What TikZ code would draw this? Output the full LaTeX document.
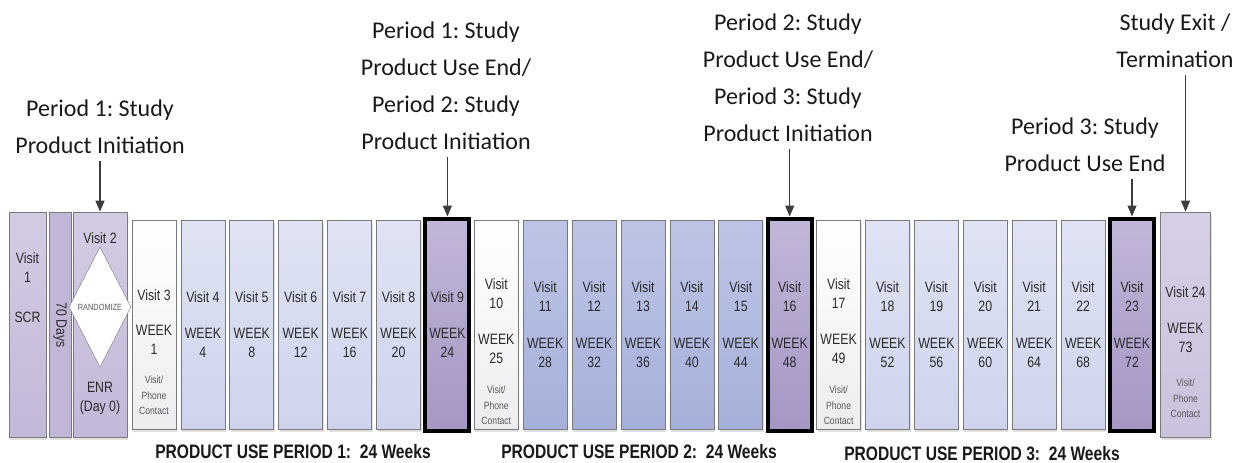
\documentclass[tikz,border=0pt]{standalone}
\usepackage{fontspec}
\setmainfont{Liberation Sans}
\newfontfamily\boxfont[FakeStretch=0.82]{Liberation Sans}
\newfontfamily\barfont[FakeStretch=0.8]{Liberation Sans}
\newfontfamily\tagfont{Carlito}
\usetikzlibrary{arrows.meta,shapes.geometric,shadows}
\frenchspacing

\definecolor{boxline}{HTML}{7A7A7A}
\definecolor{lavtop}{HTML}{D4CBE3}
\definecolor{lavbot}{HTML}{C3B8D8}
\definecolor{exittop}{HTML}{D7CFE6}
\definecolor{exitbot}{HTML}{CBC2DD}
\definecolor{daysside}{HTML}{C2B6D7}
\definecolor{daysmid}{HTML}{DED7EB}
\definecolor{whitebot}{HTML}{EDEDEF}
\definecolor{paletop}{HTML}{DFE3F3}
\definecolor{palebot}{HTML}{CDD4EC}
\definecolor{bluetop}{HTML}{BDC5E6}
\definecolor{bluebot}{HTML}{A5B0DA}
\definecolor{purptop}{HTML}{C2B6D8}
\definecolor{purpbot}{HTML}{A596C4}
\definecolor{inktext}{HTML}{2B2B2B}
\definecolor{smalltext}{HTML}{5A5A5A}
\definecolor{arrowgray}{HTML}{3C3C3C}

\tikzset{
  visit/.style={draw=boxline,line width=0.8pt,minimum width=44pt,minimum height=209pt,inner sep=0pt,
    drop shadow={shadow xshift=1pt,shadow yshift=-2.5pt,fill=black!35,opacity=0.35}},
  tallbox/.style={visit,minimum height=225pt},
  lavbox/.style={tallbox,top color=lavtop,bottom color=lavbot},
  exitbox/.style={tallbox,top color=exittop,bottom color=exitbot},
  daysbox/.style={tallbox,minimum width=22pt,left color=daysside,middle color=daysmid,right color=daysside},
  wbox/.style={visit,top color=white,bottom color=whitebot},
  pbox/.style={visit,top color=paletop,bottom color=palebot},
  bbox/.style={visit,top color=bluetop,bottom color=bluebot},
  mbox/.style={visit,draw=black,line width=4pt,minimum height=212pt,top color=purptop,bottom color=purpbot},
  vtxt/.style={anchor=north,inner sep=0pt,align=center,text=inktext,font=\boxfont\fontsize{15}{19}\selectfont},
  ctxt/.style={anchor=north,inner sep=0pt,align=center,text=smalltext,font=\boxfont\fontsize{10.5}{15.5}\selectfont},
  tag/.style={inner sep=0pt,align=center,text=black!90,font=\tagfont\fontsize{24}{37}\selectfont},
  bar/.style={inner sep=0pt,text=black!90,font=\barfont\bfseries\fontsize{19.5}{19.5}\selectfont},
  arr/.style={draw=arrowgray,line width=1.2pt,shorten <=7pt,-{Triangle[length=11pt,width=9pt]}}
}

\begin{document}
\begin{tikzpicture}[x=1pt,y=-1pt]
  \useasboundingbox (0,0) rectangle (1248,463);

  % screening and enrolment
  \node[lavbox,minimum width=37pt] (v1) at (27.5,324.5) {};
  \node[daysbox] (d70) at (60,324.5) {};
  \node[lavbox,minimum width=54pt] (v2) at (100,324.5) {};

  % visits 3 to 23
  \foreach \n/\s in {3/wbox,4/pbox,5/pbox,6/pbox,7/pbox,8/pbox,9/mbox,
                     10/wbox,11/bbox,12/bbox,13/bbox,14/bbox,15/bbox,16/mbox,
                     17/wbox,18/pbox,19/pbox,20/pbox,21/pbox,22/pbox,23/mbox}
    \node[\s] (v\n) at ({154+(\n-3)*48.9},324.5) {};

  \node[exitbox,minimum width=50pt] (v24) at (1185.5,324.5) {};

  % box texts
  \node[vtxt] (t1) at (v1.center |- 0,252.5) {Visit\\1\\[21pt]SCR};
  \node[vtxt,rotate=-90,anchor=center] (t70) at (60,325) {70 Days};
  \node[vtxt] (t2) at (v2.center |- 0,232.5) {Visit 2};
  \node[diamond,draw=boxline,fill=white,minimum width=62pt,minimum height=120pt,inner sep=0pt,
        text=smalltext,font=\boxfont\fontsize{9}{9}\selectfont] (rnd) at (100,307) {RANDOMIZE};
  \node[vtxt] (enr) at (v2.center |- 0,381.5) {ENR\\(Day 0)};

  \node[vtxt] (t3) at (v3.center |- 0,289.5) {Visit 3\\[16pt]WEEK\\1};
  \foreach \n/\w in {4/4,5/8,6/12,7/16,8/20,9/24}
    \node[vtxt] (t\n) at (v\n.center |- 0,291.5) {Visit \n\\[17pt]WEEK\\\w};
  \foreach \n/\w in {10/25,17/49}
    \node[vtxt] (t\n) at (v\n.center |- 0,278.5) {Visit\\\n\\[17pt]WEEK\\\w};
  \foreach \n/\w in {11/28,12/32,13/36,14/40,15/44,16/48,18/52,19/56,20/60,21/64,22/68,23/72}
    \node[vtxt] (t\n) at (v\n.center |- 0,281.5) {Visit\\\n\\[18pt]WEEK\\\w};
  \node[vtxt] (t24) at (v24.center |- 0,286.5) {Visit 24\\[17pt]WEEK\\73};

  \node[ctxt] (c3) at (v3.center |- 0,376) {Visit/\\Phone\\Contact};
  \node[ctxt] (c10) at (v10.center |- 0,386) {Visit/\\Phone\\Contact};
  \node[ctxt] (c17) at (v17.center |- 0,386) {Visit/\\Phone\\Contact};
  \node[ctxt] (c24) at (v24.center |- 0,379) {Visit/\\Phone\\Contact};

  % milestones
  \node[tag,anchor=north] (l1) at (100,100) {Period 1: Study\\Product Initiation};
  \node[tag,anchor=north] (l2) at (446,22) {Period 1: Study\\Product Use End/\\Period 2: Study\\Product Initiation};
  \node[tag,anchor=north] (l3) at (788,14) {Period 2: Study\\Product Use End/\\Period 3: Study\\Product Initiation};
  \node[tag,anchor=north] (l4) at (1085,118) {Period 3: Study\\Product Use End};
  \node[tag,anchor=north] (l5) at (1175,14) {Study Exit /\\Termination};

  \draw[arr] (v2.north |- l1.south) -- (v2.north);
  \draw[arr] (v9.north |- l2.south) -- (v9.north);
  \draw[arr] (v16.north |- l3.south) -- (v16.north);
  \draw[arr] (v23.north |- l4.south) -- (v23.north);
  \draw[arr] (v24.north |- l5.south) -- (v24.north);

  % periods
  \node[bar] (p1) at (293,452) {PRODUCT USE PERIOD 1:\ \ 24 Weeks};
  \node[bar] (p2) at (639,452) {PRODUCT USE PERIOD 2:\ \ 24 Weeks};
  \node[bar] (p3) at (982,454) {PRODUCT USE PERIOD 3:\ \ 24 Weeks};
\end{tikzpicture}
\end{document}
